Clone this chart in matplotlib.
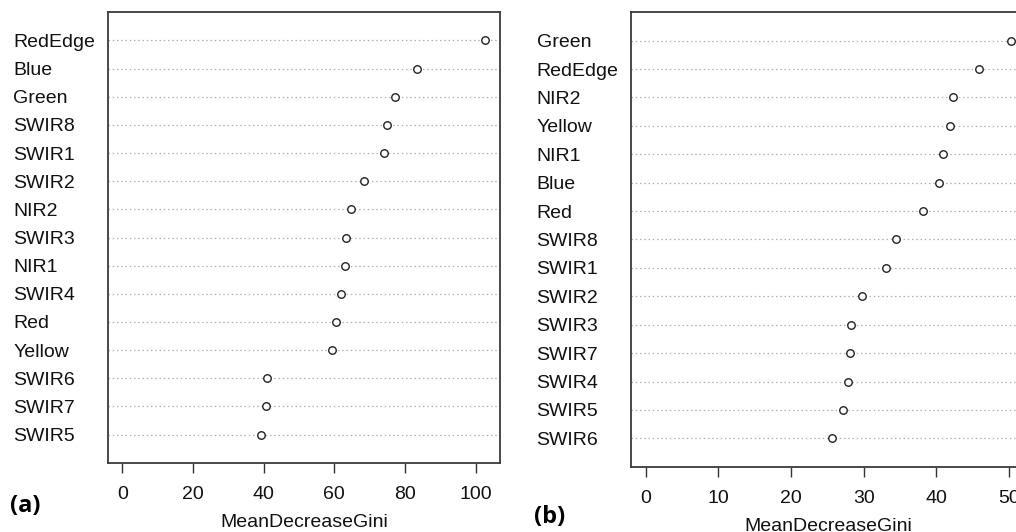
import matplotlib
matplotlib.use('Agg')
import matplotlib.pyplot as plt

plt.rcParams['font.family'] = ['Liberation Sans', 'DejaVu Sans']

# panel (a)
labels_a = ['RedEdge', 'Blue', 'Green', 'SWIR8', 'SWIR1', 'SWIR2', 'NIR2', 'SWIR3',
            'NIR1', 'SWIR4', 'Red', 'Yellow', 'SWIR6', 'SWIR7', 'SWIR5']
values_a = [102.8, 83.3, 77.3, 74.9, 74.2, 68.3, 64.7, 63.4,
            63.1, 62.0, 60.6, 59.3, 41.1, 40.7, 39.4]
ticks_a = [0, 20, 40, 60, 80, 100]

# panel (b)
labels_b = ['Green', 'RedEdge', 'NIR2', 'Yellow', 'NIR1', 'Blue', 'Red', 'SWIR8',
            'SWIR1', 'SWIR2', 'SWIR3', 'SWIR7', 'SWIR4', 'SWIR5', 'SWIR6']
values_b = [50.3, 45.9, 42.3, 41.8, 40.9, 40.3, 38.2, 34.4,
            33.1, 29.8, 28.3, 28.1, 27.8, 27.1, 25.6]
ticks_b = [0, 10, 20, 30, 40, 50]

W, H = 1016, 532
fig = plt.figure(figsize=(W / 100, H / 100), dpi=100)


def px_axes(x0, x1, ytop, ybot):
    return fig.add_axes([x0 / W, (H - ybot) / H, (x1 - x0) / W, (ybot - ytop) / H])


def dotchart(ax, labels, values, ticks):
    n = len(labels)
    ys = list(range(n, 0, -1))
    for y in ys:
        ax.axhline(y, color='#b0b0b0', lw=0.9, ls=(0, (1.2, 2.2)), zorder=1)
    ax.plot(values, ys, ls='none', marker='o', ms=5.4, mfc='white',
            mec='#222222', mew=1.0, zorder=3)
    vmax = max(values)
    ax.set_xlim(-0.04 * vmax, 1.04 * vmax)
    ax.set_ylim(0, n + 1)
    ax.set_yticks(ys)
    ax.set_yticklabels(labels, ha='left', fontsize=14, color='#111111')
    ax.tick_params(axis='y', length=0, pad=68)
    ax.set_xticks(ticks)
    ax.set_xticklabels([str(t) for t in ticks], fontsize=14, color='#111111')
    ax.tick_params(axis='x', length=7.5, width=1.0, color='#333333', pad=9)
    ax.set_xlabel('MeanDecreaseGini', fontsize=14, color='#111111', labelpad=8)
    for s in ax.spines.values():
        s.set_color('#3a3a3a')
        s.set_linewidth(1.3)


ax1 = px_axes(107.7, 500, 12.3, 462.7)
dotchart(ax1, labels_a, values_a, ticks_a)

ax2 = px_axes(631, 1026, 12.3, 466.7)
dotchart(ax2, labels_b, values_b, ticks_b)

fig.text(25 / W, 1 - 506 / H, '(a)', fontsize=17, fontweight='bold',
         family=['Open Sans', 'DejaVu Sans'], ha='center', va='center')
fig.text(550 / W, 1 - 517 / H, '(b)', fontsize=17, fontweight='bold',
         family=['Open Sans', 'DejaVu Sans'], ha='center', va='center')

fig.savefig('out.png', dpi=100)
